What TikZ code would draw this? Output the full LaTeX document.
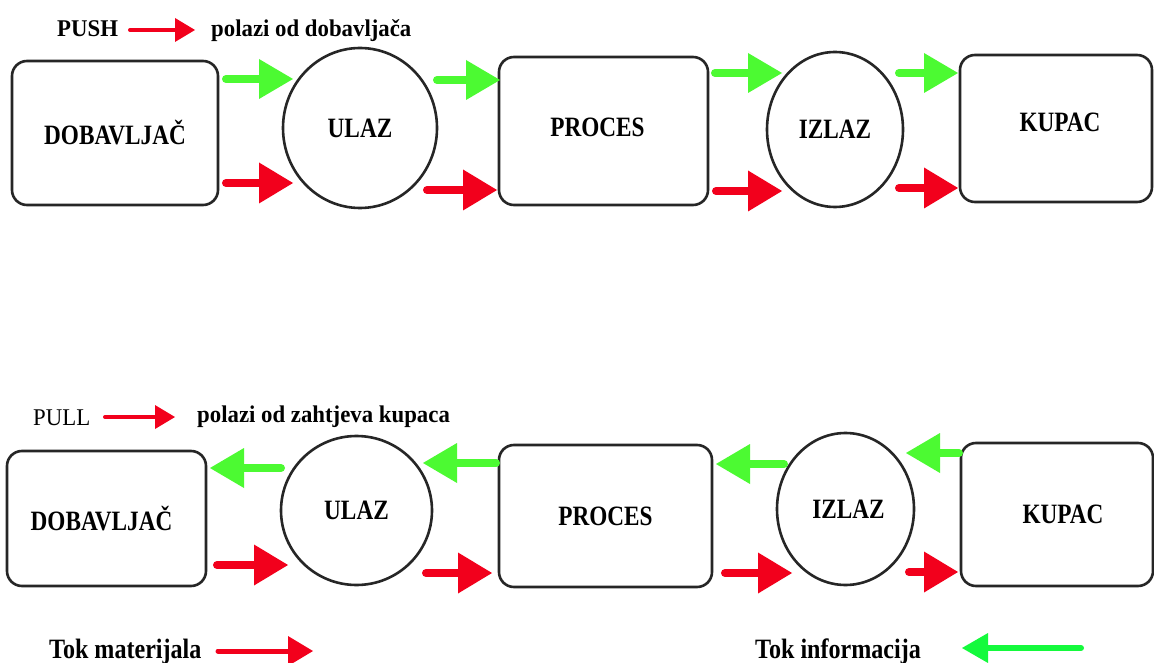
\documentclass[tikz,border=0pt]{standalone}
\usepackage{fontspec}
\setmainfont{Liberation Serif}
\newfontfamily\boxfont[FakeStretch=0.83]{Liberation Serif}
\newfontfamily\labfont[FakeStretch=0.95]{Liberation Serif}
\newfontfamily\legfont[FakeStretch=0.86]{Liberation Serif}
\usetikzlibrary{arrows.meta,shapes.geometric}
\definecolor{cgreen}{RGB}{76,250,50}
\definecolor{cred}{RGB}{242,0,28}
\definecolor{lgreen}{RGB}{20,250,60}
\newcommand{\tshift}[3]{\hspace*{#1}\raisebox{#2}{#3}}
\begin{document}
\begin{tikzpicture}[x=1pt,y=-1pt,
  boxst/.style={draw=black!85, line width=2.6pt, rounded corners=15pt, rectangle,
    inner sep=0pt, font=\boxfont\bfseries\fontsize{28}{30}\selectfont},
  ellst/.style={draw=black!85, line width=2.6pt, ellipse, inner sep=0pt,
    font=\boxfont\bfseries\fontsize{28}{30}\selectfont},
  garr/.style={draw=cgreen, line width=8pt, line cap=round,
    -{Triangle[length=34pt,width=40pt,line width=0pt]}},
  rarr/.style={draw=cred, line width=8pt, line cap=round,
    -{Triangle[length=34pt,width=41pt,line width=0pt]}},
  smallarr/.style={draw=cred, line width=4pt, line cap=round,
    -{Triangle[length=20pt,width=24pt,line width=0pt]}},
  labtxt/.style={anchor=base west, inner sep=0pt, font=\labfont\bfseries\fontsize{24}{26}\selectfont},
  legtxt/.style={anchor=base west, inner sep=0pt, font=\legfont\bfseries\fontsize{28}{30}\selectfont}
]
\useasboundingbox[fill=white] (0,0) rectangle (1154,663);

% ---------- PUSH row ----------
\node[boxst, minimum width=206pt, minimum height=144pt] (dob1) at (115,133) {DOBAVLJAČ};
\node[ellst, minimum width=154pt, minimum height=160pt] (ulaz1) at (360,128) {ULAZ};
\node[boxst, minimum width=209pt, minimum height=148pt] (proc1) at (603.5,131) {\tshift{-12pt}{8pt}{PROCES}};
\node[ellst, minimum width=136pt, minimum height=155pt] (izlaz1) at (835,129.5) {IZLAZ};
\node[boxst, minimum width=192pt, minimum height=147pt] (kup1) at (1056,128.5) {\tshift{8pt}{12pt}{KUPAC}};

\node[labtxt] (push) at (57,37) {PUSH};
\node[labtxt] (pushtxt) at (211,37) {polazi od dobavljača};
\coordinate (pushs) at (130,30);
\coordinate (pushe) at (195,30);
\draw[smallarr] (pushs) -- (pushe);

\foreach \n/\x/\y in {g1s/226/79, g1e/293/79, r1s/226/183, r1e/293/183,
  g2s/437/80, g2e/500/80, r2s/427/190, r2e/497/190,
  g3s/715/73, g3e/782/73, r3s/716/191, r3e/782/191,
  g4s/899/73, g4e/958/73, r4s/899/188, r4e/958/188}
  \coordinate (\n) at (\x,\y);
\draw[garr] (g1s) -- (g1e);
\draw[rarr] (r1s) -- (r1e);
\draw[garr] (g2s) -- (g2e);
\draw[rarr] (r2s) -- (r2e);
\draw[garr] (g3s) -- (g3e);
\draw[rarr] (r3s) -- (r3e);
\draw[garr] (g4s) -- (g4e);
\draw[rarr] (r4s) -- (r4e);

% ---------- PULL row ----------
\node[boxst, minimum width=199pt, minimum height=135pt] (dob2) at (106.5,518.5) {\tshift{-10pt}{0pt}{DOBAVLJAČ}};
\node[ellst, minimum width=151pt, minimum height=149pt] (ulaz2) at (356.5,510.5) {ULAZ};
\node[boxst, minimum width=213pt, minimum height=142pt] (proc2) at (605.5,516) {PROCES};
\node[ellst, minimum width=137pt, minimum height=152pt] (izlaz2) at (845.5,509) {\tshift{6pt}{-8pt}{IZLAZ}};
\node[boxst, minimum width=192pt, minimum height=143pt] (kup2) at (1057,514.5) {\tshift{12pt}{0pt}{KUPAC}};

\node[labtxt, font=\labfont\fontsize{24}{26}\selectfont] (pull) at (33,425) {PULL};
\node[labtxt] (pulltxt) at (197,422) {polazi od zahtjeva kupaca};
\coordinate (pulls) at (105,417);
\coordinate (pulle) at (175,417);
\draw[smallarr] (pulls) -- (pulle);

\foreach \n/\x/\y in {h1s/281/468, h1e/210/468, s1s/217/565, s1e/288/565,
  h2s/496/463, h2e/423/463, s2s/426/573, s2e/492/573,
  h3s/784/464, h3e/716/464, s3s/725/573, s3e/792/573,
  h4s/959/453, h4e/906/453, s4s/909/572, s4e/958/572}
  \coordinate (\n) at (\x,\y);
\draw[garr] (h1s) -- (h1e);
\draw[rarr] (s1s) -- (s1e);
\draw[garr] (h2s) -- (h2e);
\draw[rarr] (s2s) -- (s2e);
\draw[garr] (h3s) -- (h3e);
\draw[rarr] (s3s) -- (s3e);
\draw[garr] (h4s) -- (h4e);
\draw[rarr] (s4s) -- (s4e);

% ---------- legend ----------
\node[legtxt] (tokm) at (49,658) {Tok materijala};
\coordinate (tms) at (218,651);
\coordinate (tme) at (313,651);
\draw[draw=cred, line width=5pt, line cap=round,
  -{Triangle[length=25pt,width=30pt,line width=0pt]}] (tms) -- (tme);

\node[legtxt] (toki) at (755,658) {Tok informacija};
\coordinate (tis) at (1081,648);
\coordinate (tie) at (962,648);
\draw[draw=lgreen, line width=6pt, line cap=round,
  -{Triangle[length=26pt,width=30pt,line width=0pt]}] (tis) -- (tie);
\end{tikzpicture}
\end{document}
